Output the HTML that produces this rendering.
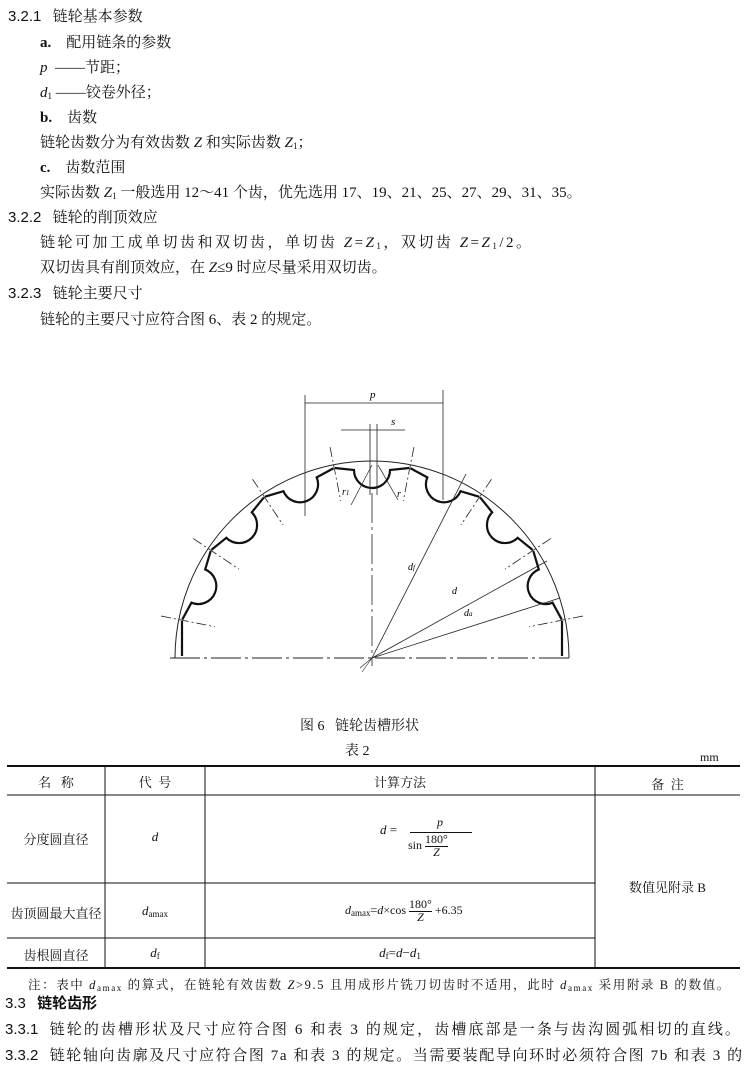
<!DOCTYPE html>
<html><head><meta charset="utf-8">
<style>
body{margin:0;width:746px;height:1078px;background:#fff;position:relative;overflow:hidden;font-family:"Liberation Serif","Noto Serif CJK SC","Noto Sans CJK SC",serif;color:#111}
.t{position:absolute;white-space:nowrap;font-size:15px;line-height:18px}
.s{font-family:"Liberation Sans","Noto Sans CJK SC",sans-serif}
i{font-style:italic}
sub{font-size:9px;vertical-align:-2px}
.tb{position:absolute;font-size:13px;white-space:nowrap;text-align:center}
</style></head><body>
<div class="t" style="left:8px;top:8px"><span class="s">3.2.1</span>&nbsp;&nbsp;&nbsp;链轮基本参数</div>
<div class="t" style="left:40px;top:34px"><b>a.</b>&nbsp;&nbsp;&nbsp;&nbsp;配用链条的参数</div>
<div class="t" style="left:40px;top:59px"><i>p</i> &nbsp;——节距；</div>
<div class="t" style="left:40px;top:84px"><i>d</i><sub>1</sub> ——铰卷外径；</div>
<div class="t" style="left:40px;top:109px"><b>b.</b>&nbsp;&nbsp;&nbsp;&nbsp;齿数</div>
<div class="t" style="left:40px;top:134px">链轮齿数分为有效齿数 <i>Z</i> 和实际齿数 <i>Z</i><sub>1</sub>；</div>
<div class="t" style="left:40px;top:159px"><b>c.</b>&nbsp;&nbsp;&nbsp;&nbsp;齿数范围</div>
<div class="t" style="left:40px;top:184px">实际齿数 <i>Z</i><sub>1</sub> 一般选用 12～41 个齿，优先选用 17、19、21、25、27、29、31、35。</div>
<div class="t" style="left:8px;top:209px"><span class="s">3.2.2</span>&nbsp;&nbsp;&nbsp;链轮的削顶效应</div>
<div class="t" style="left:40px;top:234px;letter-spacing:2.5px">链轮可加工成单切齿和双切齿，单切齿 <i>Z</i>=<i>Z</i><sub>1</sub>，双切齿 <i>Z</i>=<i>Z</i><sub>1</sub>/2。</div>
<div class="t" style="left:40px;top:259px">双切齿具有削顶效应，在 <i>Z</i>≤9 时应尽量采用双切齿。</div>
<div class="t" style="left:8px;top:285px"><span class="s">3.2.3</span>&nbsp;&nbsp;&nbsp;链轮主要尺寸</div>
<div class="t" style="left:40px;top:311px">链轮的主要尺寸应符合图 6、表 2 的规定。</div>

<svg style="position:absolute;left:0;top:0" width="746" height="700" viewBox="0 0 746 700">
<defs>
<path id="g" d="M-37.1,-190 L-18,-188 A18 18 0 0 0 18,-188 L37.1,-190" fill="none" stroke="#111" stroke-width="2.2"/>
<line id="c" x1="0" y1="-215" x2="0" y2="-160" stroke="#222" stroke-width="0.8" stroke-dasharray="10 3 2 3"/>
</defs>
<g transform="translate(372,658)">
<path d="M-197,0 A197 197 0 0 1 197,0" fill="none" stroke="#222" stroke-width="1"/>
<g><use href="#g" transform="rotate(-67.5)"/><use href="#g" transform="rotate(-45)"/><use href="#g" transform="rotate(-22.5)"/><use href="#g"/><use href="#g" transform="rotate(22.5)"/><use href="#g" transform="rotate(45)"/><use href="#g" transform="rotate(67.5)"/></g>
<g><use href="#c" transform="rotate(-78.75)"/><use href="#c" transform="rotate(-56.25)"/><use href="#c" transform="rotate(-33.75)"/><use href="#c" transform="rotate(-11.25)"/><use href="#c" transform="rotate(11.25)"/><use href="#c" transform="rotate(33.75)"/><use href="#c" transform="rotate(56.25)"/><use href="#c" transform="rotate(78.75)"/></g>
<path d="M-190,-2 L-190,-37 M190,-2 L190,-37" stroke="#111" stroke-width="2.2"/>
<line x1="-202" y1="0" x2="200" y2="0" stroke="#222" stroke-width="1" stroke-dasharray="30 4 3 4"/>
<line x1="0" y1="-165" x2="0" y2="8" stroke="#222" stroke-width="0.8" stroke-dasharray="30 4 3 4"/>
<line x1="0" y1="0" x2="94" y2="-184" stroke="#222" stroke-width="0.8"/>
<line x1="0" y1="0" x2="175" y2="-97" stroke="#222" stroke-width="0.8"/>
<line x1="0" y1="0" x2="188" y2="-60" stroke="#222" stroke-width="0.8"/>
<line x1="-12" y1="10" x2="0" y2="0" stroke="#222" stroke-width="0.6"/>
<line x1="-10" y1="14" x2="0" y2="0" stroke="#222" stroke-width="0.6"/>
</g>
<line x1="305" y1="395" x2="305" y2="516" stroke="#222" stroke-width="0.8"/>
<line x1="443" y1="390" x2="443" y2="500" stroke="#222" stroke-width="0.8"/>
<line x1="305" y1="403" x2="443" y2="403" stroke="#222" stroke-width="0.8"/>
<text x="370" y="398" font-size="11" font-style="italic" font-family="Liberation Serif">p</text>
<line x1="341" y1="430" x2="405" y2="430" stroke="#222" stroke-width="0.8"/>
<line x1="370" y1="424" x2="370" y2="495" stroke="#222" stroke-width="0.8"/>
<line x1="377" y1="424" x2="377" y2="495" stroke="#222" stroke-width="0.8"/>
<text x="391" y="425" font-size="11" font-style="italic" font-family="Liberation Serif">s</text>
<line x1="372" y1="465" x2="351" y2="505" stroke="#222" stroke-width="0.7"/>
<line x1="378" y1="465" x2="398" y2="500" stroke="#222" stroke-width="0.7"/>
<text x="342" y="495" font-size="10" font-style="italic" font-family="Liberation Serif">r<tspan font-size="7">1</tspan></text>
<text x="397" y="497" font-size="10" font-style="italic" font-family="Liberation Serif">r</text>
<text x="408" y="570" font-size="10" font-style="italic" font-family="Liberation Serif">d<tspan font-size="7">f</tspan></text>
<text x="452" y="594" font-size="10" font-style="italic" font-family="Liberation Serif">d</text>
<text x="464" y="616" font-size="10" font-style="italic" font-family="Liberation Serif">d<tspan font-size="7">a</tspan></text>
</svg>

<div class="t" style="left:300px;top:718px;font-size:14px">图 6&nbsp;&nbsp;&nbsp;链轮齿槽形状</div>
<div class="t" style="left:345px;top:743px;font-size:14px">表 2</div>
<div class="t" style="left:700px;top:748px;font-size:12px">mm</div>

<svg style="position:absolute;left:0;top:0" width="746" height="1078">
<g stroke="#111" fill="none">
<line x1="7" y1="766" x2="740" y2="766" stroke-width="2"/>
<line x1="7" y1="795" x2="740" y2="795" stroke-width="1"/>
<line x1="7" y1="883" x2="595" y2="883" stroke-width="1"/>
<line x1="7" y1="938" x2="595" y2="938" stroke-width="1"/>
<line x1="7" y1="968" x2="740" y2="968" stroke-width="2"/>
<line x1="105" y1="766" x2="105" y2="968" stroke-width="1"/>
<line x1="205" y1="766" x2="205" y2="968" stroke-width="1"/>
<line x1="595" y1="766" x2="595" y2="968" stroke-width="1"/>
</g>
</svg>
<div class="tb" style="left:7px;width:98px;top:772px">名&nbsp;&nbsp;&nbsp;称</div>
<div class="tb" style="left:105px;width:100px;top:772px">代&nbsp;&nbsp;号</div>
<div class="tb" style="left:205px;width:390px;top:772px">计算方法</div>
<div class="tb" style="left:595px;width:145px;top:774px">备&nbsp;&nbsp;注</div>
<div class="tb" style="left:7px;width:98px;top:829px">分度圆直径</div>
<div class="tb" style="left:105px;width:100px;top:829px"><i>d</i></div>
<div class="tb" style="left:380px;top:822px;text-align:left"><i>d</i> =</div>
<div class="tb" style="left:408px;top:815px;width:64px;font-size:12px"><i>p</i></div>
<div style="position:absolute;left:410px;top:832px;width:62px;border-top:1px solid #111"></div>
<div class="tb" style="left:408px;top:833px;text-align:left;font-size:12px">sin <span style="display:inline-block;vertical-align:middle;text-align:center;line-height:13px"><span style="border-bottom:1px solid #111">180°</span><br><i>Z</i></span></div>
<div class="tb" style="left:595px;width:145px;top:877px">数值见附录 B</div>
<div class="tb" style="left:7px;width:98px;top:903px">齿顶圆最大直径</div>
<div class="tb" style="left:105px;width:100px;top:903px"><i>d</i><sub>amax</sub></div>
<div class="tb" style="left:345px;top:898px;text-align:left;font-size:12px"><i>d</i><sub>amax</sub>=<i>d</i>×cos <span style="display:inline-block;vertical-align:middle;text-align:center;line-height:13px"><span style="border-bottom:1px solid #111">180°</span><br><i>Z</i></span> +6.35</div>
<div class="tb" style="left:7px;width:98px;top:945px">齿根圆直径</div>
<div class="tb" style="left:105px;width:100px;top:945px"><i>d</i><sub>f</sub></div>
<div class="tb" style="left:205px;width:390px;top:945px"><i>d</i><sub>f</sub>=<i>d</i>−<i>d</i><sub>1</sub></div>

<div class="t" style="left:28px;top:976px;font-size:12.5px;letter-spacing:1.6px">注：表中 <i>d</i><sub>amax</sub> 的算式，在链轮有效齿数 <i>Z</i>&gt;9.5 且用成形片铣刀切齿时不适用，此时 <i>d</i><sub>amax</sub> 采用附录 B 的数值。</div>
<div class="t" style="left:5px;top:995px"><span class="s">3.3</span>&nbsp;&nbsp;&nbsp;<b class="s">链轮齿形</b></div>
<div class="t" style="left:5px;top:1021px;font-size:15px"><span class="s">3.3.1</span>&nbsp;&nbsp;&nbsp;<span style="letter-spacing:2.1px">链轮的齿槽形状及尺寸应符合图 6 和表 3 的规定，齿槽底部是一条与齿沟圆弧相切的直线。</span></div>
<div class="t" style="left:5px;top:1047px;font-size:15px"><span class="s">3.3.2</span>&nbsp;&nbsp;&nbsp;<span style="letter-spacing:1.6px">链轮轴向齿廓及尺寸应符合图 7a 和表 3 的规定。当需要装配导向环时必须符合图 7b 和表 3 的</span></div>
</body></html>
